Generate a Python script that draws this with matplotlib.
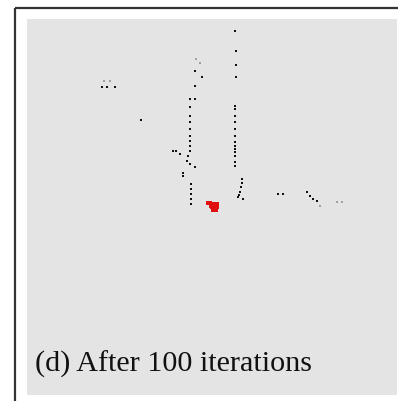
import matplotlib.pyplot as plt
from matplotlib.patches import Rectangle

# positions des points noirs (coordonnées pixel de la carte)
black_x = [102, 107, 115, 141,
           195, 202, 195, 195,
           190, 190, 190, 190, 190, 190, 190, 190, 190,
           235, 236, 236, 236, 235, 235, 235, 235, 235, 235, 235, 235, 235,
           235, 235, 235, 235,
           242, 242, 241, 240, 239, 238, 243,
           173, 176, 180, 188, 187, 190, 195, 183, 183,
           191, 191, 191, 191, 191,
           278, 283, 307, 310, 313, 317]
black_y = [88, 88, 88, 121,
           72, 78, 87, 100,
           100, 108, 117, 123, 130, 137, 142, 147, 152,
           32, 52, 66, 78, 107, 117, 123, 130, 137, 143, 150, 157, 163,
           110, 147, 153, 167,
           180, 184, 188, 193, 196, 198, 200,
           152, 152, 155, 157, 162, 165, 168, 174, 177,
           185, 190, 195, 200, 205,
           195, 195, 193, 197, 200, 202]

# points gris clairs (faibles)
faint_x = [104, 110, 320, 337, 342, 196, 200]
faint_y = [82, 82, 207, 203, 203, 60, 64]

# amas rouge
red_x = [208, 210, 212, 215, 217, 212, 215, 217, 213, 216, 211]
red_y = [204, 204, 205, 205, 205, 208, 208, 208, 211, 211, 207]

caption = "(d) After 100 iterations"

fig = plt.figure(figsize=(3.98, 4.02), dpi=100)
ax = fig.add_axes([0, 0, 1, 1])
ax.set_xlim(0, 398)
ax.set_ylim(402, 0)
ax.axis('off')

# cadre
ax.plot([15, 15], [9, 402], color='#333333', lw=1.6, solid_capstyle='butt')
ax.plot([15, 398], [9, 9], color='#333333', lw=1.6, solid_capstyle='butt')

# fond gris
ax.add_patch(Rectangle((27, 20), 370, 376, facecolor='#e4e4e4', edgecolor='none'))

ax.scatter(faint_x, faint_y, s=2, marker='s', color='#a0a0a0', linewidths=0)
ax.scatter(black_x, black_y, s=2.5, marker='s', color='#111111', linewidths=0)
ax.scatter(red_x, red_y, s=12, marker='s', color='#e01010', linewidths=0)

ax.text(35, 372, caption, fontsize=21.7, family='Liberation Serif',
        color='#111111', va='baseline', ha='left')

fig.savefig('out.png', dpi=100)
